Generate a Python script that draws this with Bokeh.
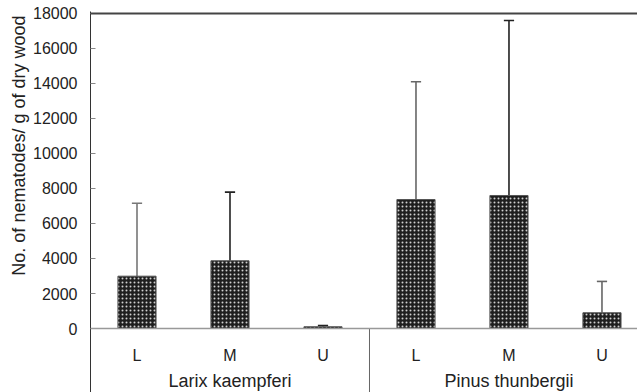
from bokeh.plotting import figure
from bokeh.models import Range1d, FixedTicker, Span, Title, ColumnDataSource
from bokeh.core.properties import value
from bokeh.embed import file_html
from bokeh.resources import INLINE

# ---- data ----
species = ["Larix kaempferi", "Pinus thunbergii"]
positions = ["L", "M", "U"]
means = [2990, 3870, 100, 7370, 7600, 900]
err_tops = [7160, 7790, 170, 14100, 17600, 2690]
y_ticks = [0, 2000, 4000, 6000, 8000, 10000, 12000, 14000, 16000, 18000]

err_colors = ["#777777", "#222222", "#222222", "#666666", "#222222", "#666666"]

FONT = "Liberation Sans"

n = len(means)
xs = [i + 0.5 for i in range(n)]

p = figure(width=637, height=392, output_backend="svg", toolbar_location=None,
           x_range=Range1d(0, 5.882), y_range=Range1d(-3657, 18114),
           min_border_left=90, min_border_right=0, min_border_top=11, min_border_bottom=0)
p.outline_line_color = None
p.xaxis.visible = False
p.xgrid.visible = False
p.ygrid.visible = False
p.background_fill_color = "white"

yax = p.yaxis[0]
yax.ticker = FixedTicker(ticks=y_ticks)
yax.minor_tick_line_color = None
yax.major_tick_in = 5
yax.major_tick_out = 0
yax.major_tick_line_color = "#888888"
yax.axis_line_color = "#333333"
yax.major_label_text_font = FONT
yax.major_label_text_font_size = "16px"
yax.major_label_text_color = "#222222"
yax.major_label_standoff = 13

src = ColumnDataSource(dict(x=xs, top=means, err=err_tops, col=err_colors))

# error bars (upper only)
p.segment(x0="x", y0="top", x1="x", y1="err", source=src, line_color="col", line_width=1.6)
p.segment(x0=[x - 0.055 for x in xs], y0=err_tops, x1=[x + 0.055 for x in xs], y1=err_tops,
          line_color=err_colors, line_width=1.6)

# bars
p.vbar(x="x", top="top", bottom=0, width=0.41, source=src,
       fill_color="#1e1e1e", line_color="#555555", line_width=1,
       hatch_pattern="dot", hatch_color="#cfcfcf", hatch_scale=4, hatch_weight=1)

# zero line and top border
p.add_layout(Span(location=0, dimension="width", line_color="#999999", line_width=1.5))
p.add_layout(Span(location=18000, dimension="width", line_color="#444444", line_width=2))

# separator between species
p.segment(x0=[3.0], y0=[0], x1=[3.0], y1=[-3657], line_color="#666666", line_width=1)

# category labels
cat_labels = positions * len(species)
p.text(x=xs, y=[-1543] * n, text=cat_labels, text_font=value(FONT), text_font_size="16px",
       text_align="center", text_baseline="middle", text_color="#222222")
sp_x = [1.5, 4.5]
p.text(x=sp_x, y=[-2990] * 2, text=species, text_font=value(FONT), text_font_size="18px",
       text_align="center", text_baseline="middle", text_color="#222222")

# y axis title
p.add_layout(Title(text="No. of nematodes/ g of dry wood", align="right", offset=4,
                   text_font=FONT, text_font_size="18px", text_font_style="normal",
                   text_color="#222222", standoff=4), "left")

open("out.html", "w").write(file_html(p, INLINE))
